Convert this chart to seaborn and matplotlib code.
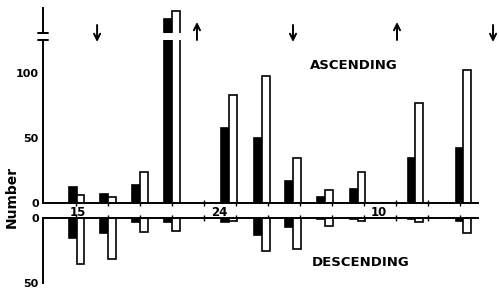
"""Ascending / descending counts per time slot, drawn as paired bars with a broken axis."""

import matplotlib

matplotlib.use("Agg")
import matplotlib.pyplot as plt
import numpy as np
import pandas as pd
import seaborn as sns

# slot positions of each black/white pair (one unit = one tick interval)
positions = [0.02, 1.0, 2.0, 3.0, 4.78, 5.81, 6.78, 7.78, 8.8, 10.6, 12.1]

asc_black = [12, 7, 14, 156, 58, 50, 17, 5, 11, 35, 42]
asc_white = [6, 4.5, 24, 162, 83, 98, 35, 10, 24, 77, 102]
desc_black = [15, 11.5, 3, 3, 3, 13, 7, 1, 0.5, 1, 2]
desc_white = [35, 31.5, 11, 10, 2, 25, 24, 6, 2, 3, 11.5]

tick_slots = list(range(13))
label_slots = [0.06, 4.47, 9.47]
label_texts = ["15", "24", "10"]

arrow_slots = [0.66, 3.78, 6.78, 10.03, 13.03]
arrow_dirs = ["down", "up", "down", "up", "down"]


def long_form(black, white):
    return pd.DataFrame({
        "pos": positions * 2,
        "value": black + white,
        "series": ["black"] * len(black) + ["white"] * len(white),
    })


def main():
    sns.set_style("white")
    plt.rcParams["font.family"] = ["DejaVu Sans"]
    plt.rcParams.update({
        "text.color": "black",
        "axes.labelcolor": "black",
        "xtick.color": "black",
        "ytick.color": "black",
        "axes.edgecolor": "black",
    })

    W, H = 499, 292
    fig = plt.figure(figsize=(W / 100, H / 100), dpi=100)

    def px_axes(left, top, right, bottom):
        return fig.add_axes([left / W, 1 - bottom / H, (right - left) / W, (bottom - top) / H])

    ax_up = px_axes(43, 40, 478, 203)   # ascending, below the break
    ax_brk = px_axes(43, 8, 478, 33)    # ascending, above the break
    ax_dn = px_axes(43, 218, 478, 283)  # descending

    width = 0.48 / np.diff(sorted(positions)).min()
    palette = {"black": "black", "white": "white"}
    asc = long_form(asc_black, asc_white)
    desc = long_form(desc_black, desc_white)

    for ax, df in [(ax_up, asc), (ax_brk, asc), (ax_dn, desc)]:
        sns.barplot(
            data=df, x="pos", y="value", hue="series", hue_order=["black", "white"],
            palette=palette, native_scale=True, width=width, dodge=True, gap=0,
            errorbar=None, edgecolor="black", linewidth=1.2, saturation=1,
            legend=False, ax=ax,
        )
        ax.set_xlim(-1.03, 12.56)
        ax.set_xlabel("")
        ax.set_ylabel("")
        ax.patch.set_alpha(0)
        for side in ax.spines:
            ax.spines[side].set_visible(False)
            ax.spines[side].set_linewidth(1.4)
            ax.spines[side].set_color("black")
        ax.spines["left"].set_visible(True)
        ax.tick_params(axis="y", direction="in", length=3, width=1.3, pad=3,
                       labelsize=8, colors="black")

    ax_up.set_ylim(0, 125.4)
    ax_brk.set_ylim(145, 164.2)
    ax_dn.set_ylim(50, 0)

    # ascending lower part
    ax_up.spines["bottom"].set_visible(True)
    ax_up.set_yticks([0, 50, 100])
    ax_up.set_xticks(label_slots)
    ax_up.set_xticklabels(label_texts, fontsize=8.5, fontweight="bold")
    ax_up.set_xticks(tick_slots, minor=True)
    ax_up.tick_params(axis="x", which="major", length=0, pad=2, colors="black")
    ax_up.tick_params(axis="x", which="minor", direction="inout", length=4, width=1,
                      bottom=True, colors="black")

    # ascending part above the break
    ax_brk.set_yticks([])
    ax_brk.set_xticks([])

    # descending
    ax_dn.spines["top"].set_visible(True)
    ax_dn.set_yticks([0, 50])
    ax_dn.set_xticks([])
    ax_dn.set_xticks(tick_slots, minor=True)
    ax_dn.tick_params(axis="x", which="minor", direction="inout", length=4, width=1,
                      top=True, bottom=False, labeltop=False, labelbottom=False,
                      colors="black")

    for lab in ax_up.get_yticklabels() + ax_dn.get_yticklabels():
        lab.set_fontweight("bold")

    # axis break marks
    for ax, yy in [(ax_up, 1.0), (ax_brk, 0.0)]:
        ax.plot([-0.011, 0.011], [yy, yy], transform=ax.transAxes, color="black",
                lw=1.4, clip_on=False)

    ax_up.text(8.69, 106, "ASCENDING", ha="center", va="center", fontsize=9.5,
               fontweight="bold", color="black")
    ax_dn.text(8.9, 34.6, "DESCENDING", ha="center", va="center", fontsize=9.5,
               fontweight="bold", color="black")
    fig.text(12 / W, 1 - 197 / H, "Number", rotation=90, ha="center", va="center",
             fontsize=10, fontweight="bold", color="black")

    # direction arrows above the panel
    for slot, d in zip(arrow_slots, arrow_dirs):
        top, bottom = (H - 22, H - 40) if d == "up" else (H - 25, H - 42)
        start, end = ((slot, bottom), (slot, top)) if d == "up" else ((slot, top), (slot, bottom))
        ax_up.annotate("", xy=end, xytext=start, xycoords=("data", "figure pixels"),
                       textcoords=("data", "figure pixels"), annotation_clip=False,
                       arrowprops=dict(arrowstyle="->", lw=1.4, color="black",
                                       mutation_scale=11, shrinkA=0, shrinkB=0))

    fig.savefig("out.png", dpi=100)


if __name__ == "__main__":
    main()
